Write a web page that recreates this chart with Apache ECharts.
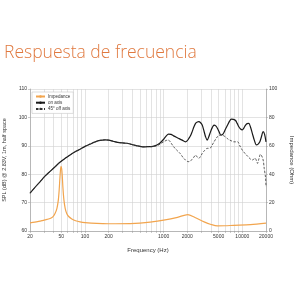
<!DOCTYPE html>
<html><head><meta charset="utf-8">
<script src="https://cdn.jsdelivr.net/npm/echarts@6/dist/echarts.min.js"></script>
<style>html,body{margin:0;padding:0;background:#fff}#c{width:300px;height:300px}</style>
</head><body><div id="c"></div>
<script>
const titleText = 'Respuesta de frecuencia';
const xLabelValues = [20,50,100,200,1000,2000,5000,10000,20000];
const xTickValues = [20,30,40,50,60,70,80,90,100,200,300,400,500,600,700,800,900,1000,2000,3000,4000,5000,6000,7000,8000,9000,10000,20000];
const seriesNames = ['Impedance','on axis','45° off axis'];
const onAxis = [[20,73.3],[23,75.3],[26.8,77.3],[31,79.3],[36,81.0],[42,82.7],[48,84.2],[56,85.6],[64.6,86.8],[75,87.9],[86.5,88.8],[100,89.8],[116,90.6],[135,91.4],[155,91.9],[180,92.1],[200,92.0],[228,91.6],[260,91.2],[300,91.0],[340,90.9],[380,90.6],[410,90.3],[460,90.0],[500,89.8],[560,89.6],[616,89.7],[673,89.7],[750,89.9],[821,90.3],[900,91.0],[1000,92.3],[1080,93.5],[1152,94.1],[1240,94.0],[1336,93.5],[1450,93.0],[1554,92.6],[1720,92.0],[1893,91.4],[2000,91.8],[2092,92.6],[2200,93.6],[2306,95.0],[2420,96.6],[2544,97.9],[2680,98.4],[2800,98.5],[2950,98.1],[3090,97.3],[3250,95.3],[3410,93.2],[3580,92.0],[3750,93.2],[3950,95.0],[4150,96.4],[4370,97.3],[4600,97.0],[4820,96.2],[5050,95.0],[5320,93.8],[5550,93.9],[5770,94.4],[6100,95.8],[6500,97.3],[6850,98.6],[7240,99.4],[7700,99.3],[8200,98.9],[8600,97.9],[9020,96.7],[9500,95.9],[9980,95.6],[10500,96.3],[11000,97.3],[11500,97.8],[12100,97.9],[12700,96.6],[13400,94.4],[14200,92.0],[15100,90.3],[15900,90.6],[16700,91.4],[17500,93.2],[18400,95.0],[19200,94.0],[20000,91.4]];
const offAxis = [[20,73.3],[23,75.3],[26.8,77.3],[31,79.3],[36,81.0],[42,82.7],[48,84.2],[56,85.6],[64.6,86.8],[75,87.9],[86.5,88.8],[100,89.8],[116,90.6],[135,91.4],[155,91.9],[180,92.1],[200,92.0],[228,91.6],[260,91.2],[300,91.0],[340,90.9],[380,90.6],[410,90.3],[460,90.0],[500,89.8],[560,89.6],[616,89.7],[673,89.7],[750,89.8],[821,90.0],[900,90.6],[1000,91.4],[1080,91.9],[1152,92.0],[1240,91.0],[1336,89.7],[1450,88.6],[1620,87.3],[1750,86.0],[1890,85.0],[2000,84.5],[2090,84.4],[2200,84.8],[2306,85.2],[2420,86.0],[2544,86.7],[2680,86.0],[2800,85.6],[2950,86.3],[3090,87.3],[3300,88.3],[3580,89.1],[3750,89.1],[3950,89.3],[4150,90.3],[4370,91.4],[4600,92.4],[4820,93.2],[5100,93.6],[5500,93.8],[5900,93.4],[6200,93.0],[6610,92.3],[7200,91.8],[7780,91.4],[8200,91.4],[8750,91.4],[9300,90.0],[9980,88.5],[10900,87.2],[11900,86.1],[12600,85.4],[13400,85.0],[14000,85.3],[14600,85.6],[15100,84.8],[15600,83.8],[16200,85.3],[17000,87.0],[17600,86.5],[18400,85.0],[19000,82.0],[19700,79.0],[20000,75.5]];
const impedance = [[20,5.7],[23,6.2],[26.8,7.0],[31,7.8],[36,8.8],[39,10],[41.6,12.3],[44,16],[45.8,21.7],[47,29],[48.1,38],[49.5,45.5],[50.5,44],[51.4,39],[52.5,30],[54,21.7],[56,16],[58.6,12.3],[62,10.2],[68,8.5],[76,7.2],[86.5,6.4],[100,5.9],[141,5.3],[200,5.1],[376,5.2],[500,5.5],[673,6.2],[1000,7.6],[1500,9.6],[2020,11.6],[2500,9.5],[3270,6.4],[4000,4.6],[4820,3.6],[6000,3.7],[7780,4.0],[12700,4.5],[20000,5.6]];

const chart = echarts.init(document.getElementById('c'), null, {renderer:'canvas'});
const F = 'Liberation Sans';
const gridColor = '#d0d0d0';
chart.setOption({
  animation:false,
  title:{text:titleText,left:4,top:44,padding:0,textStyle:{fontFamily:'Open Sans',fontWeight:300,fontSize:17.5,color:'#e0793f'}},
  legend:{orient:'vertical',left:32,top:92,itemWidth:9,itemHeight:3,itemGap:1.2,padding:[2,3],borderColor:'#bbb',borderWidth:0.5,backgroundColor:'#fff',
    textStyle:{fontSize:4.5,fontFamily:F,color:'#333',padding:[0,0,0,-2]},data:seriesNames},
  grid:{left:30,right:34,top:89,bottom:69,outerBoundsMode:'none',containLabel:false},
  xAxis:{type:'log',logBase:10,min:20,max:20000,name:'Frequency (Hz)',nameLocation:'middle',nameGap:16,
    nameTextStyle:{fontSize:6,fontFamily:F,color:'#333'},
    axisLine:{show:true,lineStyle:{color:'#999',width:0.6}},
    axisTick:{show:true,length:2,customValues:xTickValues,lineStyle:{color:'#999',width:0.5}},
    axisLabel:{customValues:xLabelValues,fontSize:5,fontFamily:F,color:'#333',margin:3,formatter:v=>String(v)},
    splitLine:{show:true,lineStyle:{color:gridColor,width:0.6}}},
  yAxis:[
    {type:'value',min:60,max:110,interval:10,name:'SPL (dB) @ 2.83V, 1m, half space',nameLocation:'middle',nameGap:17,
     nameTextStyle:{fontSize:5.5,fontFamily:F,color:'#333'},
     axisLine:{show:true,lineStyle:{color:'#999',width:0.6}},axisTick:{show:true,length:2,lineStyle:{color:'#999',width:0.5}},
     axisLabel:{fontSize:5,fontFamily:F,color:'#333',margin:3},
     splitLine:{show:true,lineStyle:{color:gridColor,width:0.6}}},
    {type:'value',min:0,max:100,interval:20,position:'right',name:'Impedance (Ohm)',nameLocation:'middle',nameGap:17,nameRotate:-90,
     nameTextStyle:{fontSize:6,fontFamily:F,color:'#333'},
     axisLine:{show:true,lineStyle:{color:'#999',width:0.6}},axisTick:{show:true,length:2,lineStyle:{color:'#999',width:0.5}},
     axisLabel:{fontSize:5,fontFamily:F,color:'#333',margin:3},
     splitLine:{show:false}}
  ],
  series:[
    {name:seriesNames[0],type:'line',yAxisIndex:1,data:impedance,smooth:0.3,symbol:'none',lineStyle:{color:'#f2a54e',width:1.2},itemStyle:{color:'#f2a54e'}},
    {name:seriesNames[1],type:'line',yAxisIndex:0,data:onAxis,smooth:0.3,symbol:'none',lineStyle:{color:'#1a1a1a',width:1.2},itemStyle:{color:'#1a1a1a'}},
    {name:seriesNames[2],type:'line',yAxisIndex:0,data:offAxis,smooth:0.3,symbol:'none',lineStyle:{color:'#333',width:0.8,type:[2.5,1.5]},itemStyle:{color:'#333'}}
  ]
});
</script></body></html>
